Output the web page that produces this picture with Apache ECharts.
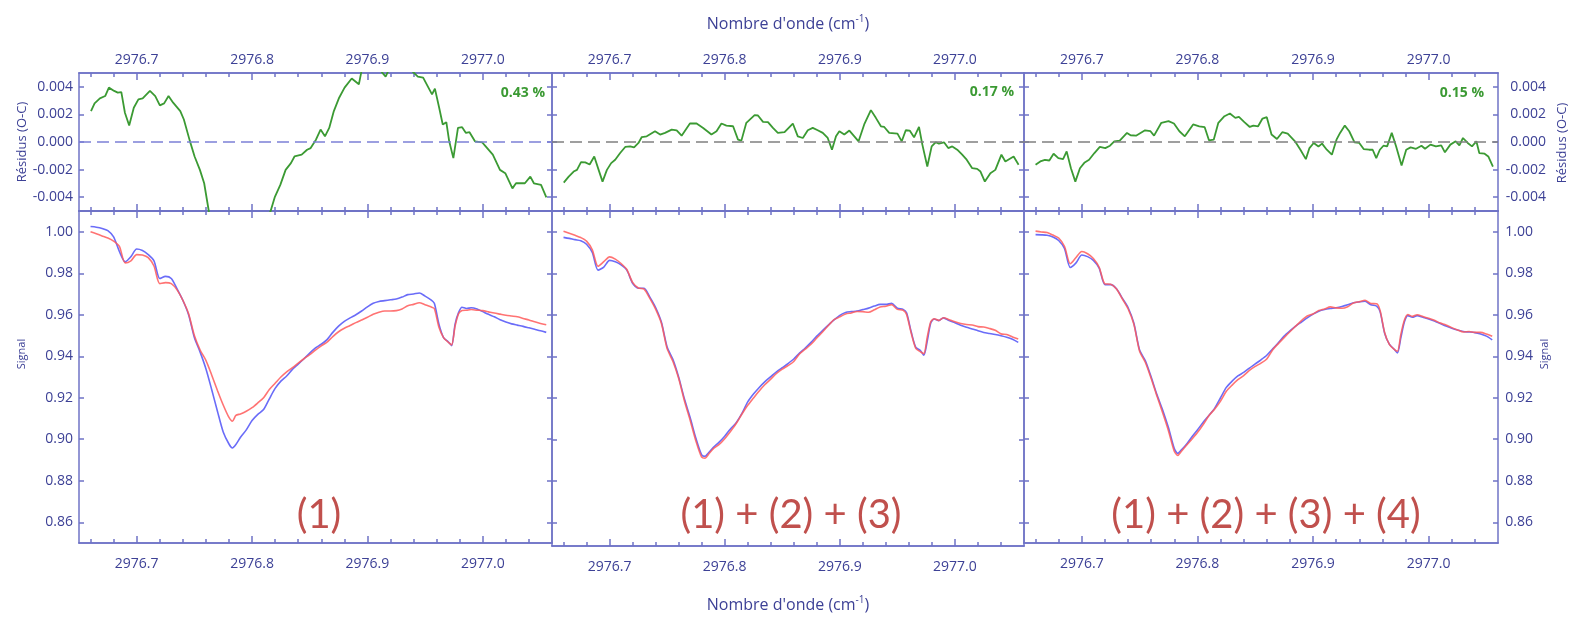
<!DOCTYPE html>
<html><head><meta charset="utf-8">
<script src="https://cdn.jsdelivr.net/npm/echarts@6/dist/echarts.min.js"></script>
<style>html,body{margin:0;padding:0;background:#fff}#c{width:1576px;height:620px}</style>
</head><body><div id="c"></div>
<script>
// ---------- DATA ----------
const wavenumber = [
 2976.660,2976.665,2976.670,2976.675,2976.680,2976.685,2976.690,2976.695,2976.700,2976.705,2976.710,2976.715,
 2976.720,2976.725,2976.730,2976.735,2976.740,2976.745,2976.750,2976.755,2976.760,2976.765,2976.770,2976.775,
 2976.780,2976.783,2976.786,2976.790,2976.795,2976.800,2976.805,2976.810,2976.815,2976.820,2976.825,2976.830,
 2976.835,2976.840,2976.845,2976.850,2976.855,2976.860,2976.865,2976.870,2976.875,2976.880,2976.885,2976.890,
 2976.895,2976.900,2976.905,2976.910,2976.915,2976.920,2976.925,2976.930,2976.935,2976.940,2976.945,2976.950,
 2976.955,2976.958,2976.962,2976.966,2976.970,2976.973,2976.976,2976.979,2976.982,2976.986,2976.990,2976.995,
 2977.000,2977.005,2977.010,2977.015,2977.020,2977.025,2977.030,2977.035,2977.040,2977.045,2977.050,2977.055];

const observed1 = [
 1.0025,1.0022,1.0016,1.0005,0.9975,0.9905,0.9855,0.9880,0.9917,0.9910,0.9890,0.9860,
 0.9775,0.9785,0.9775,0.9725,0.9670,0.9600,0.9490,0.9420,0.9340,0.9240,0.9135,0.9035,
 0.8977,0.8958,0.8975,0.9010,0.9045,0.9090,0.9120,0.9143,0.9195,0.9245,0.9280,0.9305,
 0.9337,0.9362,0.9388,0.9415,0.9440,0.9458,0.9480,0.9515,0.9545,0.9568,0.9585,0.9600,
 0.9618,0.9638,0.9655,0.9664,0.9668,0.9672,0.9676,0.9685,0.9697,0.9700,0.9705,0.9690,
 0.9672,0.9655,0.9555,0.9490,0.9470,0.9451,0.9555,0.9610,0.9636,0.9630,0.9634,0.9628,
 0.9615,0.9602,0.9590,0.9576,0.9565,0.9556,0.9550,0.9544,0.9537,0.9530,0.9523,0.9515];
const calculated1 = [
 1.0000,0.9990,0.9980,0.9970,0.9955,0.9930,0.9850,0.9860,0.9890,0.9888,0.9875,0.9835,
 0.9750,0.9755,0.9750,0.9720,0.9670,0.9605,0.9500,0.9430,0.9380,0.9310,0.9235,0.9165,
 0.9105,0.9087,0.9115,0.9122,0.9135,0.9152,0.9175,0.9200,0.9240,0.9270,0.9300,0.9325,
 0.9345,0.9367,0.9388,0.9408,0.9430,0.9450,0.9468,0.9495,0.9518,0.9535,0.9548,0.9562,
 0.9575,0.9588,0.9602,0.9612,0.9618,0.9618,0.9620,0.9628,0.9643,0.9650,0.9658,0.9648,
 0.9638,0.9630,0.9540,0.9490,0.9468,0.9455,0.9545,0.9605,0.9620,0.9622,0.9625,0.9622,
 0.9620,0.9614,0.9608,0.9603,0.9598,0.9594,0.9590,0.9582,0.9575,0.9566,0.9558,0.9552];

const observed2 = [
 0.9973,0.9968,0.9962,0.9957,0.9940,0.9900,0.9815,0.9830,0.9862,0.9855,0.9840,0.9815,
 0.9752,0.9728,0.9728,0.9685,0.9635,0.9565,0.9445,0.9385,0.9300,0.9195,0.9105,0.9005,
 0.8925,0.8918,0.8935,0.8960,0.8985,0.9015,0.9050,0.9080,0.9125,0.9180,0.9218,0.9250,
 0.9278,0.9302,0.9325,0.9345,0.9365,0.9387,0.9415,0.9440,0.9467,0.9497,0.9524,0.9550,
 0.9575,0.9597,0.9611,0.9615,0.9618,0.9625,0.9632,0.9642,0.9650,0.9650,0.9655,0.9632,
 0.9626,0.9610,0.9518,0.9443,0.9428,0.9405,0.9475,0.9560,0.9580,0.9572,0.9585,0.9572,
 0.9562,0.9550,0.9540,0.9532,0.9523,0.9515,0.9510,0.9505,0.9499,0.9492,0.9482,0.9467];
const calculated2 = [
 1.0002,0.9993,0.9983,0.9972,0.9955,0.9913,0.9834,0.9856,0.9879,0.9868,0.9847,0.9818,
 0.9756,0.9729,0.9724,0.9679,0.9627,0.9559,0.9437,0.9376,0.9294,0.9186,0.9092,0.8992,
 0.8914,0.8909,0.8928,0.8954,0.8974,0.9003,0.9038,0.9076,0.9122,0.9164,0.9199,0.9233,
 0.9264,0.9290,0.9317,0.9338,0.9355,0.9375,0.9411,0.9434,0.9458,0.9488,0.9517,0.9548,
 0.9577,0.9590,0.9604,0.9609,0.9616,0.9615,0.9612,0.9624,0.9638,0.9641,0.9649,0.9626,
 0.9622,0.9602,0.9512,0.9438,0.9422,0.9413,0.9493,0.9566,0.9581,0.9573,0.9586,0.9576,
 0.9566,0.9558,0.9553,0.9551,0.9543,0.9541,0.9534,0.9525,0.9508,0.9505,0.9493,0.9483];

const observed3 = [
 0.9986,0.9985,0.9983,0.9975,0.9958,0.9920,0.9828,0.9850,0.9888,0.9880,0.9862,0.9825,
 0.9745,0.9745,0.9725,0.9680,0.9635,0.9560,0.9430,0.9378,0.9300,0.9215,0.9140,0.9055,
 0.8955,0.8932,0.8948,0.8972,0.9010,0.9045,0.9082,0.9115,0.9150,0.9200,0.9250,0.9280,
 0.9305,0.9322,0.9343,0.9363,0.9383,0.9405,0.9435,0.9465,0.9497,0.9522,0.9545,0.9565,
 0.9585,0.9603,0.9617,0.9625,0.9630,0.9634,0.9640,0.9648,0.9658,0.9662,0.9665,0.9648,
 0.9642,0.9615,0.9510,0.9458,0.9435,0.9416,0.9490,0.9565,0.9596,0.9588,0.9596,0.9588,
 0.9580,0.9570,0.9558,0.9546,0.9535,0.9526,0.9519,0.9517,0.9514,0.9507,0.9497,0.9479];
const calculated3 = [
 1.0003,0.9999,0.9996,0.9984,0.9970,0.9930,0.9846,0.9876,0.9905,0.9894,0.9871,0.9829,
 0.9749,0.9747,0.9724,0.9677,0.9629,0.9555,0.9424,0.9370,0.9293,0.9208,0.9126,0.9040,
 0.8942,0.8922,0.8941,0.8967,0.8999,0.9032,0.9071,0.9114,0.9146,0.9184,0.9231,0.9261,
 0.9287,0.9307,0.9332,0.9351,0.9367,0.9387,0.9430,0.9461,0.9490,0.9518,0.9545,0.9572,
 0.9594,0.9604,0.9620,0.9628,0.9638,0.9633,0.9631,0.9639,0.9657,0.9663,0.9670,0.9654,
 0.9653,0.9621,0.9513,0.9457,0.9434,0.9424,0.9506,0.9573,0.9601,0.9592,0.9600,0.9592,
 0.9583,0.9573,0.9560,0.9551,0.9538,0.9527,0.9517,0.9519,0.9515,0.9515,0.9507,0.9496];

const residual1 = [
 [2976.6604,0.00224],[2976.6635,0.0028],[2976.6681,0.00316],[2976.6727,0.00333],[2976.6759,0.00394],[2976.6805,0.00370],
 [2976.6836,0.00358],[2976.6867,0.00362],[2976.6898,0.00212],[2976.6935,0.00119],[2976.6975,0.00248],[2976.7015,0.00309],
 [2976.7052,0.00316],[2976.7115,0.00370],[2976.7161,0.00333],[2976.7201,0.00265],[2976.7238,0.00280],[2976.7276,0.00333],
 [2976.7316,0.00285],[2976.7378,0.00224],[2976.7409,0.00163],[2976.7460,0.00010],[2976.7502,-0.00105],[2976.7548,-0.00202],
 [2976.7585,-0.00299],[2976.7625,-0.0050],[2976.7680,-0.0080],[2976.7750,-0.0120],[2976.7800,-0.0130],[2976.7900,-0.0110],
 [2976.8050,-0.0070],[2976.8161,-0.0050],[2976.8198,-0.00397],[2976.8245,-0.00311],[2976.8291,-0.00202],[2976.8337,-0.00153],
 [2976.8368,-0.00105],[2976.8430,-0.00092],[2976.8477,-0.00056],[2976.8508,-0.00044],[2976.8554,0.00017],[2976.8594,0.00090],
 [2976.8632,0.00041],[2976.8669,0.00102],[2976.8709,0.00224],[2976.8755,0.00321],[2976.8802,0.00394],[2976.8864,0.00460],
 [2976.8926,0.00418],[2976.8950,0.0052],[2976.9000,0.0056],[2976.9100,0.0053],[2976.9158,0.00474],[2976.9200,0.0055],
 [2976.9300,0.0058],[2976.9380,0.0052],[2976.9437,0.00474],[2976.9483,0.00467],[2976.9529,0.00394],[2976.9560,0.00345],
 [2976.9585,0.00387],[2976.9622,0.00248],[2976.9653,0.00127],[2976.9684,0.00144],[2976.9709,0.00005],[2976.9745,-0.00117],
 [2976.9785,0.00102],[2976.9821,0.00107],[2976.9854,0.00066],[2976.9885,0.00071],[2976.9932,0.00005],[2976.9994,-0.00002],
 [2977.0025,-0.00032],[2977.0087,-0.00092],[2977.0149,-0.00202],[2977.0195,-0.00226],[2977.0257,-0.00336],[2977.0288,-0.00299],
 [2977.0365,-0.00299],[2977.0412,-0.00251],[2977.0443,-0.00299],[2977.0505,-0.00311],[2977.0551,-0.00401]];

const residual2 = [
 [2976.6602,-0.00294],[2976.6645,-0.00251],[2976.6688,-0.00214],[2976.6717,-0.00202],[2976.6752,-0.00146],[2976.6789,-0.00148],
 [2976.6827,-0.00163],[2976.6867,-0.00105],[2976.6905,-0.00202],[2976.6939,-0.00287],[2976.6977,-0.00202],[2976.7014,-0.00153],
 [2976.7049,-0.00129],[2976.7092,-0.00080],[2976.7136,-0.00036],[2976.7179,-0.00032],[2976.7213,-0.00039],[2976.7251,-0.00007],
 [2976.7280,0.00036],[2976.7323,0.00041],[2976.7395,0.00078],[2976.7439,0.00054],[2976.7482,0.00066],[2976.7540,0.00090],
 [2976.7583,0.00085],[2976.7626,0.00046],[2976.7698,0.00134],[2976.7756,0.00134],[2976.7813,0.00102],[2976.7885,0.00054],
 [2976.7929,0.00078],[2976.7972,0.00134],[2976.8015,0.00119],[2976.8073,0.00114],[2976.8116,0.00017],[2976.8145,0.00010],
 [2976.8188,0.00139],[2976.8260,0.00195],[2976.8289,0.00192],[2976.8333,0.00146],[2976.8376,0.00144],[2976.8419,0.00102],
 [2976.8462,0.00066],[2976.8520,0.00071],[2976.8592,0.00134],[2976.8635,0.00041],[2976.8679,0.00029],[2976.8722,0.00085],
 [2976.8765,0.00102],[2976.8808,0.00085],[2976.8852,0.00066],[2976.8895,0.00029],[2976.8932,-0.00056],[2976.8967,0.00041],
 [2976.8996,0.00078],[2976.9039,0.00054],[2976.9083,0.00083],[2976.9126,0.00041],[2976.9163,0.00005],[2976.9212,0.00127],
 [2976.9270,0.00231],[2976.9313,0.00175],[2976.9357,0.00114],[2976.9386,0.00109],[2976.9429,0.00066],[2976.9501,0.00061],
 [2976.9538,0.00005],[2976.9573,0.00085],[2976.9607,0.00083],[2976.9645,0.00034],[2976.9688,0.00109],[2976.9717,-0.00019],
 [2976.9760,-0.00178],[2976.9798,-0.00032],[2976.9832,-0.00002],[2976.9861,-0.00012],[2976.9905,-0.00002],[2976.9942,-0.00044],
 [2976.9977,-0.00032],[2977.0020,-0.00056],[2977.0063,-0.00092],[2977.0098,-0.00124],[2977.0150,-0.00190],[2977.0193,-0.00195],
 [2977.0222,-0.00214],[2977.0260,-0.00287],[2977.0308,-0.00226],[2977.0351,-0.00202],[2977.0404,-0.00092],[2977.0438,-0.00141],
 [2977.0510,-0.00105],[2977.0553,-0.00165]];

const residual3 = [
 [2976.6600,-0.00165],[2976.6641,-0.00141],[2976.6681,-0.00129],[2976.6719,-0.00134],[2976.6756,-0.00085],[2976.6797,-0.00117],
 [2976.6838,-0.00124],[2976.6869,-0.00068],[2976.6906,-0.00190],[2976.6944,-0.00287],[2976.6984,-0.00190],[2976.7025,-0.00148],
 [2976.7063,-0.00129],[2976.7109,-0.00080],[2976.7156,-0.00036],[2976.7203,-0.00044],[2976.7244,-0.00027],[2976.7281,0.00005],
 [2976.7328,0.00010],[2976.7391,0.00066],[2976.7422,0.00049],[2976.7469,0.00046],[2976.7547,0.00085],[2976.7594,0.00078],
 [2976.7625,0.00046],[2976.7688,0.00139],[2976.7750,0.00151],[2976.7797,0.00134],[2976.7844,0.00078],[2976.7891,0.00041],
 [2976.7922,0.00078],[2976.7963,0.00127],[2976.8016,0.00114],[2976.8063,0.00107],[2976.8100,0.00012],[2976.8141,0.00017],
 [2976.8181,0.00139],[2976.8234,0.00187],[2976.8281,0.00207],[2976.8328,0.00175],[2976.8359,0.00182],[2976.8406,0.00144],
 [2976.8453,0.00109],[2976.8484,0.00119],[2976.8525,0.00114],[2976.8563,0.00170],[2976.8600,0.00180],[2976.8641,0.00054],
 [2976.8688,0.00022],[2976.8734,0.00071],[2976.8781,0.00061],[2976.8844,0.00005],[2976.8891,-0.00056],[2976.8938,-0.00124],
 [2976.8969,-0.00044],[2976.9006,-0.00007],[2976.9047,-0.00032],[2976.9078,-0.00012],[2976.9119,-0.00056],[2976.9163,-0.00092],
 [2976.9203,0.00017],[2976.9234,0.00066],[2976.9275,0.00119],[2976.9313,0.00078],[2976.9359,-0.00002],[2976.9400,-0.00007],
 [2976.9438,-0.00051],[2976.9484,-0.00056],[2976.9516,-0.00056],[2976.9547,-0.00117],[2976.9578,-0.00056],[2976.9609,-0.00027],
 [2976.9641,-0.00032],[2976.9681,0.00066],[2976.9719,-0.00032],[2976.9766,-0.00170],[2976.9806,-0.00056],[2976.9844,-0.00039],
 [2976.9891,-0.00049],[2976.9938,-0.00027],[2976.9969,-0.00049],[2977.0016,-0.00019],[2977.0063,-0.00032],[2977.0109,-0.00024],
 [2977.0141,-0.00075],[2977.0188,-0.00019],[2977.0234,0.00005],[2977.0266,-0.00024],[2977.0297,0.00029],[2977.0338,-0.00007],
 [2977.0375,-0.00032],[2977.0413,0.00005],[2977.0438,-0.00080],[2977.0484,-0.00085],[2977.0516,-0.00105],[2977.0556,-0.00178]];

const xTickValues = [2976.7, 2976.8, 2976.9, 2977.0];
const xMinorTickValues = [2976.66,2976.68,2976.70,2976.72,2976.74,2976.76,2976.78,2976.80,2976.82,2976.84,
                          2976.86,2976.88,2976.90,2976.92,2976.94,2976.96,2976.98,2977.00,2977.02,2977.04];
const residTickValues = [-0.004, -0.002, 0, 0.002, 0.004];
const signalTickValues = [0.86, 0.88, 0.90, 0.92, 0.94, 0.96, 0.98, 1.00];
const rmsLabels = ['0.43 %', '0.17 %', '0.15 %'];
const modelLabels = ['(1)', '(1) + (2) + (3)', '(1) + (2) + (3) + (4)'];
const xTitle = "Nombre d'onde (cm";
const residName = 'Résidus (O-C)';
const signalName = 'Signal';

// ---------- LAYOUT / STYLE ----------
const AX = '#6f73c6', LBL = '#3d4196', GREEN = '#3b9a33';
const FONT = "'Open Sans', sans-serif";
const X_MIN = 2976.65, X_MAX = 2977.06;
const P = [{left:79,width:473},{left:552,width:472},{left:1024,width:474}];
const RES_TOP = 73, RES_H = 138, SIG_TOP = 211;
const sigH = [332, 335, 332];
const sigMin = [0.85, 0.8486, 0.85];
const zeroColors = ['#7c80d6', '#808080', '#808080'];
const observed = [observed1, observed2, observed3];
const calculated = [calculated1, calculated2, calculated3];
const residuals = [residual1, residual2, residual3];

const grids = [];
for (let i = 0; i < 3; i++) grids.push({left:P[i].left, top:RES_TOP, width:P[i].width, height:RES_H, outerBoundsMode:'none'});
for (let i = 0; i < 3; i++) grids.push({left:P[i].left, top:SIG_TOP, width:P[i].width, height:sigH[i], outerBoundsMode:'none'});

function mkX(grid, pos, values, len, labels, margin) {
  return {
    type:'value', gridIndex:grid, position:pos, min:X_MIN, max:X_MAX,
    axisLine:{show:true, onZero:false, lineStyle:{color:AX, width:1.5}},
    axisTick:{show:true, inside:true, length:len, customValues:values, lineStyle:{color:AX, width:1.5}},
    axisLabel:{show:labels, customValues:values, formatter:v => v.toFixed(1), color:LBL,
               fontSize:14, fontFamily:FONT, margin:margin},
    splitLine:{show:false}, minorTick:{show:false}
  };
}
function mkY(grid, pos, min, max, values, digits, labels, margin, align) {
  const lab = {show:labels, customValues:values, formatter:v => v.toFixed(digits), color:LBL,
               fontSize:14, fontFamily:FONT, margin:margin};
  if (align) lab.align = align;
  return {
    type:'value', gridIndex:grid, position:pos, min:min, max:max,
    axisLine:{show:true, onZero:false, lineStyle:{color:AX, width:1.5}},
    axisTick:{show:true, inside:true, length:5, customValues:values, lineStyle:{color:AX, width:1.5}},
    axisLabel:lab, splitLine:{show:false}
  };
}

const xAxes = [], yAxes = [];
for (let g = 0; g < 6; g++) {
  const isRes = g < 3;
  const prim = isRes ? 'top' : 'bottom', opp = isRes ? 'bottom' : 'top';
  xAxes.push(mkX(g, prim, xTickValues, 7, true, isRes ? 6 : 14));
  xAxes.push(mkX(g, prim, xMinorTickValues, 4, false, 0));
  xAxes.push(mkX(g, opp, xTickValues, 7, false, 0));
  xAxes.push(mkX(g, opp, xMinorTickValues, 4, false, 0));
  const p = g % 3;
  if (isRes) {
    yAxes.push(mkY(g, 'left', -0.005, 0.005, residTickValues, 3, p === 0, 6));
    yAxes.push(mkY(g, 'right', -0.005, 0.005, residTickValues, 3, p === 2, 48, 'right'));
  } else {
    yAxes.push(mkY(g, 'left', sigMin[p], 1.01, signalTickValues, 2, p === 0, 6));
    yAxes.push(mkY(g, 'right', sigMin[p], 1.01, signalTickValues, 2, p === 2, 35, 'right'));
  }
}

const series = [];
for (let p = 0; p < 3; p++) {
  series.push({
    type:'line', xAxisIndex:p*4, yAxisIndex:p*2, data:residuals[p], showSymbol:false,
    lineStyle:{color:GREEN, width:1.8}, z:3,
    markLine:{silent:true, symbol:['none','none'], label:{show:false}, animation:false,
      lineStyle:{color:zeroColors[p], type:[12,6], width:1.5}, data:[{yAxis:0}]}
  });
  const g = 3 + p;
  series.push({
    type:'line', xAxisIndex:g*4, yAxisIndex:g*2, showSymbol:false, smooth:0.25,
    data:wavenumber.map((w, i) => [w, observed[p][i]]),
    lineStyle:{color:'#6a6cf8', width:1.6}, z:2
  });
  series.push({
    type:'line', xAxisIndex:g*4, yAxisIndex:g*2, showSymbol:false, smooth:0.25,
    data:wavenumber.map((w, i) => [w, calculated[p][i]]),
    lineStyle:{color:'#ff5a5a', width:1.6, opacity:0.85}, z:3
  });
}

function titleText(y) {
  return {type:'text', x:788, y:y, z:100, style:{
    text:'{a|' + xTitle + '}{s|-1}{a|)}', align:'center', verticalAlign:'middle',
    rich:{a:{fontSize:16, fontFamily:FONT, fill:LBL, color:LBL},
          s:{fontSize:10, fontFamily:FONT, fill:LBL, color:LBL, padding:[0,0,10,0]}}}};
}
const rmsPos = [[545,93],[1014,92],[1484,93]];
const modelPos = [[319,515],[791,515],[1266,515]];
const graphic = [titleText(24), titleText(605)];
for (let p = 0; p < 3; p++) {
  graphic.push({type:'text', x:rmsPos[p][0], y:rmsPos[p][1], z:100, style:{text:rmsLabels[p],
    fontSize:14, fontWeight:'bold', fontFamily:FONT, fill:GREEN, align:'right', verticalAlign:'middle'}});
  graphic.push({type:'text', x:modelPos[p][0], y:modelPos[p][1], z:100, style:{text:modelLabels[p],
    fontSize:40, fontFamily:'Lato, sans-serif', fill:'#c0504d', align:'center', verticalAlign:'middle'}});
}
const nameStyle = (t, fs) => ({text:t, fontSize:fs, fontFamily:FONT, fill:LBL, align:'center', verticalAlign:'middle'});
graphic.push({type:'text', x:22, y:142, rotation:Math.PI/2, z:100, style:nameStyle(residName, 13)});
graphic.push({type:'text', x:22, y:354, rotation:Math.PI/2, z:100, style:nameStyle(signalName, 11)});
graphic.push({type:'text', x:1562, y:143, rotation:Math.PI/2, z:100, style:nameStyle(residName, 13)});
graphic.push({type:'text', x:1545, y:354, rotation:Math.PI/2, z:100, style:nameStyle(signalName, 11)});

const chart = echarts.init(document.getElementById('c'), null, {renderer:'canvas'});
chart.setOption({
  animation:false, backgroundColor:'#ffffff',
  grid:grids, xAxis:xAxes, yAxis:yAxes, series:series, graphic:graphic
});
</script>
</body></html>
